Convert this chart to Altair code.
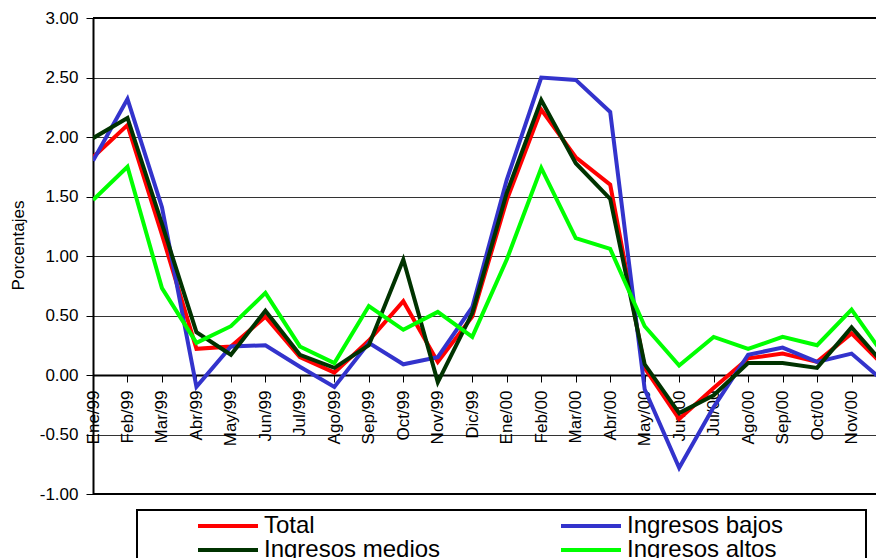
import altair as alt
import pandas as pd

months = ["Ene/99", "Feb/99", "Mar/99", "Abr/99", "May/99", "Jun/99", "Jul/99", "Ago/99",
          "Sep/99", "Oct/99", "Nov/99", "Dic/99", "Ene/00", "Feb/00", "Mar/00", "Abr/00",
          "May/00", "Jun/00", "Jul/00", "Ago/00", "Sep/00", "Oct/00", "Nov/00", "Dic/00"]

total = [1.83, 2.10, 1.18, 0.22, 0.24, 0.49, 0.15, 0.02, 0.29, 0.62, 0.11, 0.49,
         1.47, 2.23, 1.83, 1.60, 0.06, -0.37, -0.11, 0.14, 0.18, 0.11, 0.35, 0.06]
bajos = [1.80, 2.32, 1.41, -0.10, 0.24, 0.25, 0.07, -0.10, 0.27, 0.09, 0.15, 0.57,
         1.64, 2.50, 2.48, 2.21, -0.12, -0.78, -0.27, 0.17, 0.23, 0.11, 0.18, -0.07]
medios = [1.99, 2.16, 1.27, 0.36, 0.17, 0.54, 0.17, 0.06, 0.25, 0.97, -0.06, 0.52,
          1.53, 2.31, 1.78, 1.48, 0.09, -0.32, -0.17, 0.10, 0.10, 0.06, 0.40, 0.07]
altos = [1.47, 1.75, 0.73, 0.27, 0.41, 0.69, 0.24, 0.10, 0.58, 0.38, 0.53, 0.32,
         0.97, 1.74, 1.15, 1.06, 0.41, 0.08, 0.32, 0.22, 0.32, 0.25, 0.55, 0.14]

series_names = ["Total", "Ingresos bajos", "Ingresos medios", "Ingresos altos"]
series_colors = ["#FF0000", "#3333CC", "#003300", "#00FF00"]
# legend fills column by column: col 1 = Total, Ingresos medios; col 2 = bajos, altos
legend_order = ["Total", "Ingresos medios", "Ingresos bajos", "Ingresos altos"]
legend_colors = [series_colors[series_names.index(n)] for n in legend_order]
y_ticks = [-1.0, -0.5, 0.0, 0.5, 1.0, 1.5, 2.0, 2.5, 3.0]
border_values = [3.0, -1.0]

rows = []
for name, vals in zip(series_names, [total, bajos, medios, altos]):
    for m, v in zip(months, vals):
        rows.append({"mes": m, "serie": name, "valor": v})
df = pd.DataFrame(rows)

FONT = "Liberation Sans"
W, H = 783, 476
STEP = 34.48

x_enc = alt.X(
    "mes:O",
    sort=months,
    scale=alt.Scale(type="point", padding=0, range=[0, STEP * 23]),
    axis=alt.Axis(
        title=None,
        labelAngle=270,
        labelAlign="right",
        labelBaseline="middle",
        labelFont=FONT,
        labelFontSize=17,
        labelColor="black",
        labelPadding=8,
        labelOverlap=False,
        labelBound=False,
        labelFlush=False,
        tickSize=7,
        tickColor="black",
        tickWidth=1,
        domainColor="black",
        domainWidth=2,
        offset=-119,
        grid=False,
    ),
)

y_enc = alt.Y(
    "valor:Q",
    scale=alt.Scale(domain=[-1, 3], nice=False, zero=False),
    axis=alt.Axis(
        title="Porcentajes",
        values=y_ticks,
        format=".2f",
        labelExpr="replace(datum.label, '\u2212', '-')",
        labelFont=FONT,
        labelFontSize=17,
        labelColor="black",
        labelPadding=8,
        tickSize=7,
        tickColor="black",
        domainColor="black",
        domainWidth=2,
        grid=True,
        gridColor="#333333",
        gridWidth=1,
        titleFont=FONT,
        titleFontSize=17,
        titleFontWeight="normal",
        titleColor="black",
        titleAngle=270,
        titleAlign="center",
        titleBaseline="middle",
        titleX=-75,
        titleY=227,
    ),
)

lines = alt.Chart(df).mark_line(strokeWidth=4, clip=True).encode(
    x=x_enc,
    y=y_enc,
    color=alt.Color(
        "serie:N",
        scale=alt.Scale(domain=legend_order, range=legend_colors),
        legend=alt.Legend(
            title=None,
            orient="none",
            direction="vertical",
            legendX=123,
            legendY=496,
            columns=2,
            symbolType="M-3,0H3",
            symbolSize=400,
            symbolStrokeWidth=4,
            symbolFillColor="transparent",
            labelFont=FONT,
            labelFontSize=24,
            labelColor="black",
            labelLimit=400,
            labelOffset=24,
            columnPadding=112,
            rowPadding=-8,
            padding=0,
        ),
    ),
)

borders = alt.Chart(pd.DataFrame({"valor": border_values})).mark_rule(
    color="black", strokeWidth=2
).encode(y=alt.Y("valor:Q"))

box = alt.Chart(pd.DataFrame({"k": [0]})).mark_rect(
    fillOpacity=0, stroke="black", strokeWidth=2
).encode(
    x=alt.value(44), x2=alt.value(773), y=alt.value(492), y2=alt.value(580)
)

chart = alt.layer(borders, lines, box).properties(
    width=W,
    height=H,
    autosize=alt.AutoSizeParams(type="none"),
    padding={"left": 85, "top": 10, "right": 0, "bottom": 64},
).configure_view(stroke=None).configure(background="white")

chart.save("out.html", embed_options={"renderer": "svg", "actions": False})
